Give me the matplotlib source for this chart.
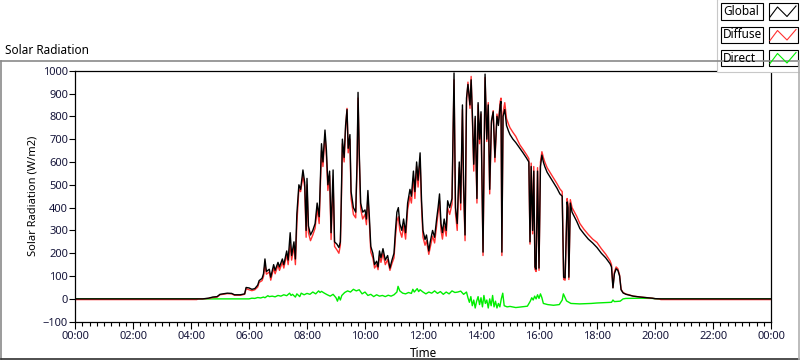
import matplotlib.pyplot as plt
from matplotlib.patches import Rectangle
from matplotlib.lines import Line2D

plt.rcParams['font.family'] = ['Noto Sans', 'DejaVu Sans']

# time of day in hours
hours = [
    0.0, 4.2, 4.25, 4.4, 4.6, 4.75, 4.9, 5.0, 5.1, 5.25, 5.4, 5.5, 5.7, 5.85, 5.9,
    6.0, 6.1, 6.2, 6.3, 6.35, 6.45, 6.5, 6.55, 6.6, 6.7, 6.75, 6.85, 6.9,
    7.0, 7.05, 7.15, 7.2, 7.3, 7.35, 7.42, 7.47, 7.55, 7.6, 7.65, 7.72, 7.78, 7.86, 7.92, 7.97,
    8.0, 8.05, 8.12, 8.2, 8.28, 8.35, 8.42, 8.5, 8.55, 8.62, 8.67, 8.72, 8.78, 8.83, 8.9, 8.95,
    9.03, 9.1, 9.15, 9.18, 9.22, 9.28, 9.33, 9.38, 9.42, 9.48, 9.52, 9.6, 9.68, 9.73, 9.76, 9.8, 9.85, 9.92,
    10.0, 10.05, 10.1, 10.15, 10.2, 10.27, 10.33, 10.4, 10.45, 10.5, 10.55, 10.62, 10.7, 10.78, 10.86, 10.93,
    11.0, 11.05, 11.1, 11.15, 11.2, 11.27, 11.33, 11.4, 11.47, 11.55, 11.6, 11.67, 11.72, 11.78, 11.83, 11.9, 11.95,
    12.0, 12.07, 12.12, 12.2, 12.25, 12.33, 12.4, 12.47, 12.52, 12.57, 12.62, 12.67, 12.73, 12.8, 12.85, 12.92,
    13.0, 13.07, 13.12, 13.18, 13.25, 13.3, 13.36, 13.4, 13.45, 13.5, 13.55, 13.62, 13.66, 13.7, 13.75, 13.8, 13.86, 13.9, 13.95,
    14.0, 14.07, 14.1, 14.14, 14.2, 14.25, 14.3, 14.36, 14.42, 14.48, 14.55, 14.6, 14.66, 14.69, 14.72, 14.76, 14.82, 14.88, 14.95,
    15.0, 15.1, 15.2, 15.34, 15.45, 15.57, 15.65, 15.69, 15.73, 15.78, 15.82, 15.86, 15.9, 15.95,
    16.0, 16.05, 16.1, 16.15, 16.2, 16.28, 16.4, 16.5, 16.62, 16.72, 16.8, 16.85, 16.9, 16.97,
    17.0, 17.03, 17.08, 17.14, 17.3, 17.41, 17.55, 17.7, 17.85,
    18.0, 18.15, 18.3, 18.45, 18.5, 18.55, 18.6, 18.66, 18.72, 18.78, 18.83, 18.9,
    19.0, 19.1, 19.25, 19.5, 19.75, 19.9, 20.0, 20.15, 20.2, 24.0,
]

global_rad = [
    0, 0, 0, 0, 3, 8, 10, 20, 22, 25, 24, 18, 18, 22, 50,
    48, 42, 45, 60, 80, 90, 110, 175, 120, 130, 95, 150, 125,
    160, 140, 175, 150, 210, 170, 290, 190, 250, 175, 372, 500, 480, 565, 510, 300,
    528, 320, 280, 300, 330, 420, 360, 680, 600, 740, 650, 500, 560, 290, 565, 250,
    240, 225, 250, 420, 700, 620, 760, 830, 660, 720, 470, 400, 380, 620, 905, 650, 420, 380,
    390, 350, 475, 360, 230, 200, 150, 165, 140, 210, 180, 220, 170, 190, 135, 170,
    200, 300, 380, 400, 330, 300, 350, 290, 420, 480, 450, 560, 470, 600, 520, 640, 430,
    300, 260, 280, 210, 250, 300, 270, 350, 400, 460, 330, 290, 350, 300, 430, 400,
    440, 990, 400, 330, 600, 420, 850, 500, 280, 880, 940, 850, 960, 820, 590, 800, 440, 860, 700,
    820, 205, 560, 985, 700, 850, 480, 780, 820, 620, 800, 760, 850, 865, 205, 800, 830, 760, 735,
    720, 700, 685, 660, 640, 617, 600, 250, 580, 300, 560, 140, 130, 560,
    135, 580, 630, 600, 580, 555, 530, 510, 485, 460, 450, 95, 92, 425,
    400, 95, 420, 380, 340, 308, 285, 262, 245,
    225, 200, 180, 154, 140, 48, 110, 132, 125, 100, 40, 26,
    20, 17, 12, 8, 5, 3, 1, 0, 0, 0,
]

diffuse_rad = [
    -3, -3, 0, 0, 2, 6, 8, 18, 20, 23, 22, 16, 16, 20, 45,
    40, 36, 40, 52, 72, 80, 98, 150, 108, 118, 82, 135, 110,
    148, 125, 160, 135, 195, 150, 240, 170, 230, 150, 330, 480, 470, 540, 490, 270,
    500, 290, 255, 280, 310, 395, 330, 650, 580, 720, 620, 475, 540, 260, 520, 230,
    215, 200, 235, 390, 680, 600, 745, 835, 640, 700, 440, 370, 355, 600, 880, 630, 395, 350,
    370, 325, 450, 335, 205, 180, 135, 150, 128, 190, 160, 200, 150, 172, 125, 155,
    180, 270, 340, 360, 300, 270, 320, 262, 390, 450, 420, 530, 440, 580, 490, 610, 400,
    270, 235, 255, 195, 225, 275, 245, 320, 370, 430, 300, 262, 320, 275, 400, 370,
    415, 960, 375, 300, 575, 390, 830, 470, 255, 860, 950, 835, 975, 800, 560, 790, 420, 850, 680,
    810, 190, 540, 970, 690, 860, 460, 770, 825, 600, 810, 770, 865, 880, 190, 815, 860, 790, 765,
    750, 730, 712, 675, 655, 632, 615, 240, 595, 285, 580, 130, 120, 575,
    125, 600, 645, 620, 600, 575, 550, 530, 505, 482, 470, 85, 82, 440,
    415, 85, 435, 400, 362, 330, 305, 282, 262,
    247, 220, 196, 167, 150, 50, 118, 140, 132, 104, 42, 28,
    21, 18, 12, 8, 5, 3, 1, 0, -3, -3,
]

direct_hours = [
    0.0, 4.55, 6.0, 6.1, 6.2, 6.3, 6.4, 6.5, 6.55, 6.65, 6.7, 6.8, 6.9,
    7.0, 7.1, 7.2, 7.3, 7.4, 7.45, 7.5, 7.6, 7.65, 7.75, 7.8, 7.9,
    8.0, 8.1, 8.2, 8.3, 8.4, 8.45, 8.5, 8.6, 8.7, 8.8, 8.9,
    9.0, 9.05, 9.1, 9.15, 9.2, 9.3, 9.4, 9.5, 9.6, 9.7, 9.8, 9.9,
    10.0, 10.1, 10.2, 10.3, 10.4, 10.5, 10.6, 10.7, 10.8, 10.9,
    11.0, 11.1, 11.14, 11.2, 11.3, 11.4, 11.5, 11.6, 11.65, 11.7, 11.8, 11.85, 11.9,
    12.0, 12.1, 12.2, 12.3, 12.4, 12.5, 12.6, 12.7, 12.8, 12.9,
    13.0, 13.1, 13.2, 13.3, 13.4, 13.5, 13.55, 13.6, 13.65, 13.7, 13.75, 13.8, 13.85, 13.9, 13.95,
    14.0, 14.05, 14.1, 14.15, 14.2, 14.25, 14.3, 14.35, 14.4, 14.45, 14.5, 14.55, 14.6, 14.65, 14.7, 14.75, 14.8, 14.9,
    15.0, 15.2, 15.4, 15.6, 15.7, 15.75, 15.8, 15.85, 15.9, 15.95,
    16.0, 16.05, 16.1, 16.15, 16.3, 16.5, 16.7, 16.8, 16.84, 16.9, 16.95,
    17.1, 17.4, 17.8, 18.0, 18.5, 18.55, 18.6, 18.8, 18.9,
    19.0, 19.5, 19.9, 20.1, 24.0,
]

direct_rad = [
    0, 0, 0, 3, 2, 6, 4, 8, 5, 14, 10, 12, 9,
    15, 12, 18, 14, 25, 15, 20, 8, 22, 10, 25, 18,
    24, 20, 30, 22, 35, 28, 33, 25, 18, 12, 20,
    5, -10, 10, -5, 15, 28, 35, 30, 42, 35, 40, 22,
    30, 15, 20, 10, 18, 12, 15, 10, 16, 12,
    18, 30, 55, 35, 25, 22, 28, 24, 42, 30, 45, 32, 40,
    30, 22, 30, 25, 35, 24, 32, 20, 30, 22,
    35, 28, 30, 34, 20, 30, 5, -15, 10, -30, -5, -40, -10, 10, -25,
    5, -35, 15, -20, -5, -40, 0, -30, 15, -35, -10, -40, -20, -35, 0, 25, -30, -35,
    -33, -38, -35, -32, -10, 5, -5, 12, 0, 18,
    2, 22, 5, -20, -25, -28, -25, -5, 22, 5, -9,
    -20, -22, -20, -18, -15, -5, -12, -10, 0,
    2, 3, 2, 0, 0,
]

W, H = 800, 361
fig = plt.figure(figsize=(W / 100, H / 100), dpi=100)
fig.patch.set_facecolor('white')

txt = '#15153a'
ax = fig.add_axes([75 / W, 1 - 321.7 / H, (771 - 75) / W, (321.7 - 70.7) / H])
ax.set_zorder(2)
ax.plot(direct_hours, direct_rad, color='#00ee00', lw=1.0)
ax.plot(hours, diffuse_rad, color='#ff3030', lw=1.0)
ax.plot(hours, global_rad, color='black', lw=1.0)

ax.set_xlim(0, 24)
ax.set_ylim(-100, 1000)
ax.set_yticks(range(-100, 1001, 100))
ax.set_xticks(range(0, 25, 2))
ax.set_xticklabels(['%02d:00' % (h % 24) for h in range(0, 25, 2)])
ax.set_xticks([q / 4 for q in range(0, 97)], minor=True)
ax.tick_params(axis='y', which='major', length=4, width=0.8, labelsize=8, colors='black', labelcolor=txt, pad=1)
ax.tick_params(axis='x', which='major', length=5, width=0.8, labelsize=8, colors='black', labelcolor=txt, pad=2)
ax.tick_params(axis='x', which='minor', length=3, width=0.8, colors='black')
for s in ax.spines.values():
    s.set_linewidth(0.9)
    s.set_color('black')
ax.set_ylabel('Solar Radiation (W/m2)', fontsize=8, color='black', labelpad=3)
ax.set_xlabel('Time', fontsize=8.5, color='black', labelpad=3)

# frame, title and legend drawn in pixel coordinates
ov = fig.add_axes([0, 0, 1, 1])
ov.set_xlim(0, W)
ov.set_ylim(H, 0)
ov.axis('off')
ov.set_zorder(3)
ov.patch.set_alpha(0)
ov.add_line(Line2D([0.5, 0.5], [61, 359], color='#8a8a8a', lw=1.2))
ov.add_line(Line2D([0.5, 799], [61, 61], color='#8a8a8a', lw=1.2))
ov.add_line(Line2D([0.5, 799], [359, 359], color='#303030', lw=1.2))
ov.add_line(Line2D([799, 799], [61, 359], color='#b0b0b0', lw=1.2))
ov.text(5, 50, 'Solar Radiation', fontsize=8.5, va='center', ha='left', color='black')

ov.add_patch(Rectangle((716.5, -1), 90, 73, facecolor='white', edgecolor='#c8c8c8', lw=0.8))
names = ['Global', 'Diffuse', 'Direct']
colors = ['black', '#ff3030', '#00ee00']
tops = [3, 26.5, 49.5]
for name, c, y0 in zip(names, colors, tops):
    ov.add_patch(Rectangle((720.5, y0), 42, 16.5, facecolor='white', edgecolor='black', lw=0.8))
    ov.text(723, y0 + 8.5, name, fontsize=8.5, va='center', ha='left', color='black')
    ov.add_patch(Rectangle((768.5, y0), 29, 16.5, facecolor='white', edgecolor='black', lw=0.8))
    ov.add_line(Line2D([770, 777.5, 787, 796], [y0 + 14, y0 + 4, y0 + 13.5, y0 + 3], color=c, lw=0.8))

fig.savefig('out.png', dpi=100)
